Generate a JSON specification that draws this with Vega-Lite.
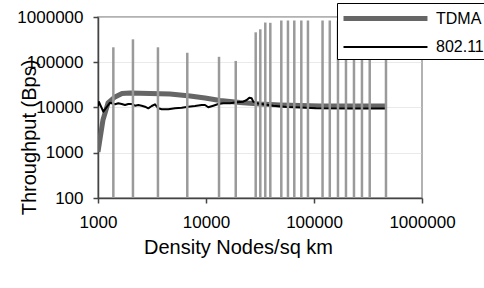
{
  "$schema": "https://vega.github.io/schema/vega-lite/v6.json",
  "width": 324,
  "height": 181,
  "autosize": {"type": "none"},
  "padding": {"left": 98, "top": 17, "right": 62, "bottom": 90},
  "background": "white",
  "config": {
    "font": "Liberation Sans",
    "view": {"stroke": "#999999", "strokeWidth": 1.5}
  },
  "datasets": {
    "lines": [
      {"series": "TDMA", "density": 1000, "throughput": 1040},
      {"series": "TDMA", "density": 1112, "throughput": 5300},
      {"series": "TDMA", "density": 1238, "throughput": 12600},
      {"series": "TDMA", "density": 1437, "throughput": 17100},
      {"series": "TDMA", "density": 1668, "throughput": 20400},
      {"series": "TDMA", "density": 1978, "throughput": 20900},
      {"series": "TDMA", "density": 3030, "throughput": 20400},
      {"series": "TDMA", "density": 4640, "throughput": 19900},
      {"series": "TDMA", "density": 7110, "throughput": 17900},
      {"series": "TDMA", "density": 9790, "throughput": 16200},
      {"series": "TDMA", "density": 13500, "throughput": 14300},
      {"series": "TDMA", "density": 20600, "throughput": 12900},
      {"series": "TDMA", "density": 31600, "throughput": 11900},
      {"series": "TDMA", "density": 48400, "throughput": 11350},
      {"series": "TDMA", "density": 113600, "throughput": 10800},
      {"series": "TDMA", "density": 474000, "throughput": 10800},
      {"series": "802.11", "density": 1000, "throughput": 10630},
      {"series": "802.11", "density": 1021, "throughput": 13230},
      {"series": "802.11", "density": 1120, "throughput": 8074},
      {"series": "802.11", "density": 1292, "throughput": 12770},
      {"series": "802.11", "density": 1437, "throughput": 11770},
      {"series": "802.11", "density": 1542, "throughput": 12380},
      {"series": "802.11", "density": 1658, "throughput": 11950},
      {"series": "802.11", "density": 1778, "throughput": 11360},
      {"series": "802.11", "density": 1908, "throughput": 11950},
      {"series": "802.11", "density": 2051, "throughput": 11950},
      {"series": "802.11", "density": 2201, "throughput": 10960},
      {"series": "802.11", "density": 2362, "throughput": 11360},
      {"series": "802.11", "density": 2538, "throughput": 10960},
      {"series": "802.11", "density": 2724, "throughput": 10410},
      {"series": "802.11", "density": 2922, "throughput": 9600},
      {"series": "802.11", "density": 3142, "throughput": 10790},
      {"series": "802.11", "density": 3372, "throughput": 11770},
      {"series": "802.11", "density": 3617, "throughput": 9600},
      {"series": "802.11", "density": 3888, "throughput": 9125},
      {"series": "802.11", "density": 4477, "throughput": 9125},
      {"series": "802.11", "density": 5164, "throughput": 9600},
      {"series": "802.11", "density": 5957, "throughput": 9900},
      {"series": "802.11", "density": 6859, "throughput": 10410},
      {"series": "802.11", "density": 7909, "throughput": 10790},
      {"series": "802.11", "density": 9125, "throughput": 11360},
      {"series": "802.11", "density": 9788, "throughput": 11360},
      {"series": "802.11", "density": 10503, "throughput": 10100},
      {"series": "802.11", "density": 11685, "throughput": 10960},
      {"series": "802.11", "density": 13000, "throughput": 11950},
      {"series": "802.11", "density": 14462, "throughput": 12380},
      {"series": "802.11", "density": 16684, "throughput": 12380},
      {"series": "802.11", "density": 19245, "throughput": 13030},
      {"series": "802.11", "density": 22147, "throughput": 13430},
      {"series": "802.11", "density": 23819, "throughput": 14640},
      {"series": "802.11", "density": 25174, "throughput": 16470},
      {"series": "802.11", "density": 26500, "throughput": 15970},
      {"series": "802.11", "density": 27416, "throughput": 13430},
      {"series": "802.11", "density": 29470, "throughput": 12380},
      {"series": "802.11", "density": 33933, "throughput": 11770},
      {"series": "802.11", "density": 41995, "throughput": 10960},
      {"series": "802.11", "density": 55876, "throughput": 10260},
      {"series": "802.11", "density": 74200, "throughput": 10000},
      {"series": "802.11", "density": 104300, "throughput": 9600},
      {"series": "802.11", "density": 215400, "throughput": 9504},
      {"series": "802.11", "density": 474200, "throughput": 9504}
    ],
    "bars": [
      {"density": 1387, "top": 214000},
      {"density": 2107, "top": 321000},
      {"density": 3590, "top": 214000},
      {"density": 6710, "top": 162000},
      {"density": 13200, "top": 132000},
      {"density": 18850, "top": 107000},
      {"density": 28850, "top": 459000},
      {"density": 31830, "top": 535000},
      {"density": 35400, "top": 755000},
      {"density": 39400, "top": 744000},
      {"density": 49800, "top": 837000},
      {"density": 57400, "top": 837000},
      {"density": 65700, "top": 837000},
      {"density": 76300, "top": 837000},
      {"density": 87900, "top": 837000},
      {"density": 120000, "top": 837000},
      {"density": 140000, "top": 837000},
      {"density": 166700, "top": 837000},
      {"density": 197700, "top": 837000},
      {"density": 234500, "top": 837000},
      {"density": 278000, "top": 837000},
      {"density": 328000, "top": 837000},
      {"density": 464000, "top": 837000}
    ]
  },
  "layer": [
    {
      "data": {"name": "lines"},
      "mark": {"type": "line", "clip": true, "strokeJoin": "round"},
      "encoding": {
        "x": {
          "field": "density", "type": "quantitative",
          "scale": {"type": "log", "domain": [1000, 1000000]},
          "axis": {
            "values": [1000, 10000, 100000, 1000000], "format": "d", "labelFlush": false,
            "grid": false, "domainColor": "#444444", "domainWidth": 1.5,
            "tickColor": "#444444", "tickSize": 5, "tickWidth": 1.5,
            "labelFontSize": 17, "labelColor": "black", "labelPadding": 11,
            "title": "Density Nodes/sq km", "titleFontSize": 20, "titleFontWeight": "normal",
            "titleColor": "black", "titleX": 140, "titleY": 55, "titleBaseline": "alphabetic"
          }
        },
        "y": {
          "field": "throughput", "type": "quantitative",
          "scale": {"type": "log", "domain": [100, 1000000]},
          "axis": {
            "values": [100, 1000, 10000, 100000, 1000000], "format": "d", "labelFlush": false,
            "grid": true, "gridColor": "#d4d4d4", "gridDash": [1, 1],
            "domainColor": "#444444", "domainWidth": 1.5,
            "tickColor": "#444444", "tickSize": 5, "tickWidth": 1.5,
            "labelFontSize": 17, "labelColor": "black", "labelPadding": 10,
            "title": "Throughput (Bps)", "titleFontSize": 20, "titleFontWeight": "normal",
            "titleColor": "black", "titleX": -63, "titleY": 120, "titleBaseline": "alphabetic",
            "titleAngle": 270
          }
        },
        "color": {
          "field": "series", "type": "nominal",
          "scale": {"domain": ["TDMA", "802.11"], "range": ["#666666", "#000000"]},
          "legend": {
            "title": null, "orient": "none", "legendX": 239, "legendY": -14,
            "strokeColor": "black", "fillColor": "white", "padding": 4, "rowPadding": 8,
            "symbolType": "M-1,0H8.33", "symbolSize": 324, "labelOffset": 72,
            "labelFontSize": 16, "labelColor": "black"
          }
        },
        "strokeWidth": {
          "field": "series", "type": "nominal",
          "scale": {"type": "ordinal", "domain": ["TDMA", "802.11"], "range": [5, 2]},
          "legend": {
            "title": null, "orient": "none", "legendX": 239, "legendY": -14,
            "strokeColor": "black", "fillColor": "white", "padding": 4, "rowPadding": 8,
            "symbolType": "M-1,0H8.33", "symbolSize": 324, "labelOffset": 72,
            "labelFontSize": 16, "labelColor": "black"
          }
        }
      }
    },
    {
      "data": {"name": "bars"},
      "mark": {"type": "rule", "color": "#9a9a9a", "strokeWidth": 2.5},
      "encoding": {
        "x": {"field": "density", "type": "quantitative"},
        "y": {"field": "top", "type": "quantitative"},
        "y2": {"datum": 100}
      }
    }
  ]
}
